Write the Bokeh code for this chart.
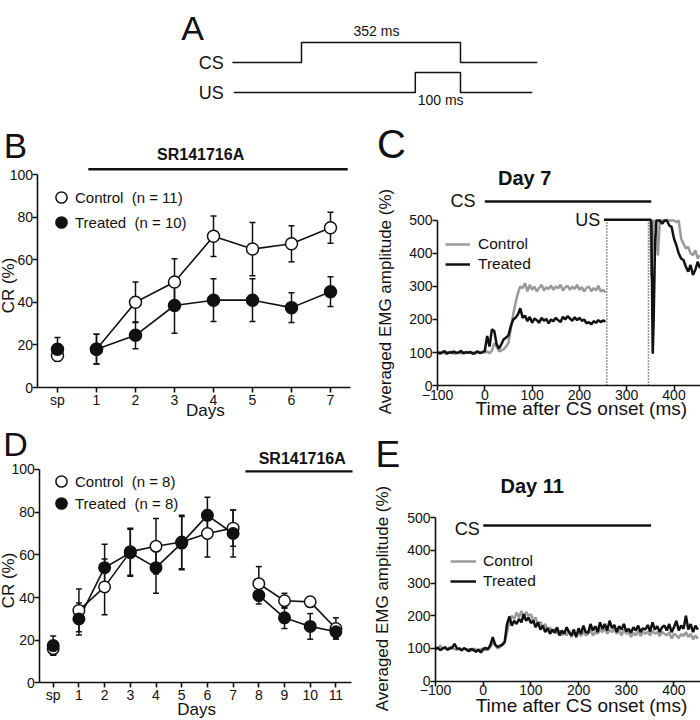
import math
from bokeh.plotting import figure
from bokeh.models import (Range1d, Label, Whisker, TeeHead, ColumnDataSource,
                          FixedTicker, Legend, LegendItem)
from bokeh.layouts import column, row
from bokeh.embed import file_html
from bokeh.resources import INLINE

FONT = "Liberation Sans"
INK = "#111111"
GRAY = "#9a9a9a"

# ---------------- Panel A : stimulus schematic (ms) ----------------
cs_times = [-153, 0, 0, 352, 352, 522]
cs_levels = [0, 0, 1, 1, 0, 0]
us_times = [-150, 252, 252, 352, 352, 511]
us_levels = [0, 0, 1, 1, 0, 0]

# ---------------- Panel B : CR % (days sp, 1..7) ----------------
day_labels_B = ["sp", "1", "2", "3", "4", "5", "6", "7"]
ctrl_B = [15, 18, 40, 49.5, 71, 65, 67.5, 75]
ctrl_B_err = [2.5, 7, 9.5, 11, 9.5, 12.5, 8.5, 7.3]
treat_B = [18, 18, 24.5, 38.5, 41, 41, 37.5, 45]
treat_B_err = [5.5, 7, 6.3, 13, 10, 10, 7, 7]

# ---------------- Panel D : CR % (days sp, 1..11) ----------------
day_labels_D = ["sp", "1", "2", "3", "4", "5", "6", "7", "8", "9", "10", "11"]
ctrl_D = [16, 34, 45, 61.5, 64, 66, 70, 72.5, 46.5, 38.5, 38, 25.5]
ctrl_D_err = [3, 10, 13, 11, 13, 12.5, 11, 8.5, 8, 3.5, 2, 5]
treat_D = [17.5, 30, 54, 61, 54, 65.5, 78.5, 70, 41, 30.5, 26.5, 24]
treat_D_err = [4.5, 7.5, 11, 11, 12, 12.5, 8.5, 11, 4, 5, 6, 3]

# ---------------- Panel C : Day 7 EMG traces (%) ----------------
c7_pre_start, c7_step = -100, 5
c7_ctrl_pre = [100, 98, 103, 97, 101, 99, 104, 96, 100, 102, 97, 101, 99, 103, 98, 100, 96, 102, 99, 101,
               100, 103, 98, 105, 128, 118, 104, 106, 110, 118, 130,
               170, 215, 250, 280, 300, 295, 310, 285, 305, 290, 300, 285, 296, 305, 288, 298, 292, 303, 290, 300,
               295, 305, 288, 298, 302, 290, 299, 293, 305, 290, 298, 285, 296, 300, 286, 295, 288, 302, 285, 290, 282]
c7_treat_pre = [102, 97, 100, 104, 96, 101, 99, 103, 98, 100, 105, 97, 101, 99, 102, 96, 100, 103, 98, 101,
                105, 150, 118, 170, 165, 125, 112, 125, 140, 145, 152,
                180, 200, 205, 215, 234, 205, 212, 195, 208, 190, 203, 198, 190, 205, 196, 202, 188, 200, 195, 205,
                198, 192, 208, 200, 210, 203, 196, 207, 198, 205, 196, 200, 188, 192, 185, 195, 190, 198, 192, 197, 194]
c7_post_t = [350, 352, 355, 357, 360, 363, 366, 370, 375, 380, 385, 390, 395, 400, 405, 410, 415, 420, 425,
             430, 435, 440, 445, 450, 455]
c7_treat_post = [500, 500, 96, 200, 440, 500, 500, 500, 490, 500, 500, 485, 480, 445, 425, 400, 385, 380, 360,
                 345, 365, 335, 350, 375, 355]
c7_ctrl_post = [500, 330, 450, 500, 500, 470, 394, 500, 500, 500, 500, 500, 500, 500, 495, 500, 445, 430, 415,
                420, 400, 395, 410, 385, 395]
c7_cs_on, c7_cs_off = 0, 352
c7_us_on, c7_us_off = 252, 352
c7_gate = [258, 346]

# ---------------- Panel E : Day 11 EMG traces (%) ----------------
e11_start, e11_step = -100, 5
e11_treat = [98, 102, 95, 100, 104, 97, 100, 103, 114, 100, 99, 94, 101, 97, 92, 99, 95, 90, 97, 88,
             98, 102, 97, 110, 135, 112, 105, 108, 112, 120, 175,
             198, 170, 185, 175, 190, 180, 205, 185, 195, 178,
             185, 165, 180, 158, 170, 150, 162, 145, 158, 148,
             165, 140, 155, 145, 165, 150, 140, 158, 135, 162,
             145, 170, 150, 148, 175, 155, 168, 150, 180, 160,
             175, 155, 185, 162, 172, 150, 168, 158, 175, 152,
             160, 148, 165, 155, 170, 150, 162, 158, 172, 152,
             180, 158, 168, 150, 165, 170, 155, 175, 150, 165,
             185, 155, 170, 160, 200, 158, 175, 150, 170, 158]
e11_ctrl = [105, 100, 110, 98, 102, 95, 105, 100, 98, 96, 102, 97, 100, 95, 98, 93, 100, 96, 92, 98,
            100, 95, 100, 105, 118, 110, 100, 105, 110, 118, 150,
            185, 200, 190, 210, 195, 215, 190, 212, 200, 205,
            185, 195, 170, 182, 165, 175, 155, 165, 150, 160,
            145, 155, 140, 150, 140, 155, 135, 148, 140, 150,
            138, 152, 140, 145, 158, 140, 150, 145, 160, 150,
            162, 145, 158, 150, 160, 145, 155, 140, 158, 145,
            150, 135, 148, 140, 155, 138, 150, 145, 152, 140,
            155, 145, 150, 138, 150, 145, 140, 150, 130, 145,
            140, 132, 145, 138, 150, 135, 145, 128, 140, 130]
e11_cs_on, e11_cs_off = 0, 352


def panel(w, h, xr, yr, axes=True):
    kw = {} if axes else dict(x_axis_type=None, y_axis_type=None)
    p = figure(width=w, height=h, x_range=Range1d(*xr), y_range=Range1d(*yr),
               output_backend="svg", toolbar_location=None,
               min_border_left=0, min_border_right=0, min_border_top=0, min_border_bottom=0, **kw)
    p.outline_line_color = None
    p.grid.visible = False
    p.background_fill_color = "white"
    p.border_fill_color = "white"
    return p


def style_axes(p, x_at, y_at, xbounds, ybounds, xticks, yticks, xlabels=None):
    for ax in (p.xaxis[0], p.yaxis[0]):
        ax.axis_line_color = INK
        ax.axis_line_width = 1.6
        ax.major_tick_line_color = INK
        ax.major_tick_line_width = 1.6
        ax.major_tick_out = 5
        ax.major_tick_in = 0
        ax.minor_tick_line_color = None
        ax.major_label_text_font = FONT
        ax.major_label_text_font_size = "14px"
        ax.major_label_text_color = INK
    xa, ya = p.xaxis[0], p.yaxis[0]
    xa.fixed_location = x_at
    ya.fixed_location = y_at
    xa.bounds = xbounds
    ya.bounds = ybounds
    xa.major_label_standoff = -1
    ya.major_label_standoff = 0
    xa.ticker = FixedTicker(ticks=xticks)
    ya.ticker = FixedTicker(ticks=yticks)
    if xlabels:
        xa.major_label_overrides = {t: s for t, s in zip(xticks, xlabels)}


def label(p, x, y, text, size, bold=False, align="center", angle=0.0):
    p.add_layout(Label(x=x, y=y, text=text, text_font=FONT, text_font_size=size,
                       text_font_style="bold" if bold else "normal", text_color=INK,
                       text_align=align, text_baseline="middle", angle=angle))


def add_err(p, xs, ys, errs):
    src = ColumnDataSource(dict(x=xs, lo=[y - e for y, e in zip(ys, errs)],
                                hi=[y + e for y, e in zip(ys, errs)]))
    p.add_layout(Whisker(source=src, base="x", lower="lo", upper="hi",
                         line_color=INK, line_width=1.5,
                         upper_head=TeeHead(size=6, line_color=INK, line_width=1.5),
                         lower_head=TeeHead(size=6, line_color=INK, line_width=1.5)))


def one_legend(p, text, rend, x, y):
    p.add_layout(Legend(items=[LegendItem(label=text, renderers=[rend])], location=(x, y),
                        glyph_width=28, glyph_height=28, spacing=0, padding=0, margin=0,
                        label_standoff=0, label_text_font=FONT, label_text_font_size="15px",
                        label_text_color=INK, border_line_alpha=0, background_fill_alpha=0))


def two_legend(p, items, x, y, gw, standoff):
    p.add_layout(Legend(items=[LegendItem(label=t, renderers=[r]) for t, r in items],
                        location=(x, y), glyph_width=gw, glyph_height=20, spacing=0, padding=0,
                        margin=0, label_standoff=standoff, label_text_font=FONT,
                        label_text_font_size="15.5px", label_text_color=INK,
                        border_line_alpha=0, background_fill_alpha=0))


# ====================== Panel A (page y 0..110) ======================
pa = panel(700, 110, (-666.4, 883.4), (-110, 0), axes=False)
cs_base, us_base, amp = -62, -92, 20
pa.line(cs_times, [cs_base + amp * v for v in cs_levels], line_color=INK, line_width=1.5)
pa.line(us_times, [us_base + amp * v for v in us_levels], line_color=INK, line_width=1.5)
label(pa, -241, -27, "A", "34px")
label(pa, -172, -62, "CS", "18px", align="right")
label(pa, -172, -92, "US", "18px", align="right")
label(pa, 166, -30, "352 ms", "14px")
label(pa, 308, -99, "100 ms", "14px")

# ====================== Panel B (page x 0..370, y 110..423) ======================
xB = list(range(len(day_labels_B)))
pb = panel(370, 313, (-1.4615, 8.0256), (-16.9, 130.05))
style_axes(pb, 0, -0.5, (-0.5, 7.5), (0, 100), xB, [0, 20, 40, 60, 80, 100], day_labels_B)
add_err(pb, xB, ctrl_B, ctrl_B_err)
add_err(pb, xB, treat_B, treat_B_err)
pb.line(xB[1:], ctrl_B[1:], line_color=INK, line_width=1.6)
pb.line(xB[1:], treat_B[1:], line_color=INK, line_width=1.6)
rbc = pb.scatter(xB, ctrl_B, size=12, fill_color="white", line_color=INK, line_width=1.5)
rbt = pb.scatter(xB, treat_B, size=12, fill_color=INK, line_color=INK, line_width=1.5)
drug_B = (0.79, 7.44)
pb.segment(x0=drug_B[0], y0=102.5, x1=drug_B[1], y1=102.5, line_color=INK, line_width=2.4)
label(pb, 3.67, 109.4, "SR141716A", "16px", bold=True)
label(pb, -1.077, 113.6, "B", "35px")
label(pb, -1.244, 47.9, "CR (%)", "17px", angle=math.pi / 2)
label(pb, 3.79, -10.8, "Days", "17px")
one_legend(pb, "Control  (n = 11)", rbc, 47, 212)
one_legend(pb, "Treated  (n = 10)", rbt, 47, 187)

# ====================== Panel D (page x 0..370, y 423..720) ======================
xD = list(range(len(day_labels_D)))
pd_ = panel(370, 297, (-2.0506, 12.346), (-17.56, 121.5))
style_axes(pd_, 0, -0.52, (-0.52, 11.6), (0, 100), xD, [0, 20, 40, 60, 80, 100], day_labels_D)
add_err(pd_, xD, ctrl_D, ctrl_D_err)
add_err(pd_, xD, treat_D, treat_D_err)
for a, b in ((1, 8), (8, 12)):
    pd_.line(xD[a:b], ctrl_D[a:b], line_color=INK, line_width=1.6)
    pd_.line(xD[a:b], treat_D[a:b], line_color=INK, line_width=1.6)
rdc = pd_.scatter(xD, ctrl_D, size=11.5, fill_color="white", line_color=INK, line_width=1.5)
rdt = pd_.scatter(xD, treat_D, size=11.5, fill_color=INK, line_color=INK, line_width=1.5)
drug_D = (7.48, 11.646)
pd_.segment(x0=drug_D[0], y0=99.1, x1=drug_D[1], y1=99.1, line_color=INK, line_width=2.4)
label(pd_, 9.69, 105.3, "SR141716A", "16px", bold=True)
label(pd_, -1.467, 112.0, "D", "34px")
label(pd_, -1.72, 48, "CR (%)", "17px", angle=math.pi / 2)
label(pd_, 5.58, -12.4, "Days", "17px")
one_legend(pd_, "Control  (n = 8)", rdc, 47, 225)
one_legend(pd_, "Treated  (n = 8)", rdt, 47, 203)

# ====================== Panel C (page x 370..700, y 110..425) ======================
pc = panel(330, 315, (-241.65, 456.0), (-121.2, 833.3))
style_axes(pc, 0, -100, (-100, 456), (0, 500), [-100, 0, 100, 200, 300, 400],
           [0, 100, 200, 300, 400, 500])
t_pre = [c7_pre_start + c7_step * i for i in range(len(c7_ctrl_pre))]
rcc = pc.line(t_pre, c7_ctrl_pre, line_color=GRAY, line_width=2.5)
rct = pc.line(t_pre, c7_treat_pre, line_color=INK, line_width=2.5)
pc.line(c7_post_t, c7_ctrl_post, line_color=GRAY, line_width=2.5)
pc.line(c7_post_t, c7_treat_post, line_color=INK, line_width=2.5)
pc.segment(x0=c7_gate, y0=[0, 0], x1=c7_gate, y1=[500, 500], line_color="#333333",
           line_width=1.5, line_dash="1 2")
pc.segment(x0=c7_cs_on, y0=557.6, x1=c7_cs_off, y1=557.6, line_color=INK, line_width=2.5)
pc.segment(x0=c7_us_on, y0=502, x1=c7_us_off, y1=502, line_color=INK, line_width=2.5)
label(pc, -19.7, 557.6, "CS", "18px", align="right")
label(pc, 244, 502, "US", "18px", align="right")
label(pc, 84.4, 628.8, "Day 7", "20px", bold=True)
label(pc, -197.3, 733, "C", "40px")
label(pc, -210, 254.5, "Averaged EMG amplitude (%)", "17px", angle=math.pi / 2)
label(pc, 204, -69.7, "Time after CS onset (ms)", "19px")
two_legend(pc, [("Control", rcc), ("Treated", rct)], 75, 151, 25, 8)

# ====================== Panel E (page x 370..700, y 425..720) ======================
pe = panel(330, 295, (-236.3, 455.6), (-120.2, 782.0))
style_axes(pe, 0, -100, (-100, 455.6), (0, 500), [-100, 0, 100, 200, 300, 400],
           [0, 100, 200, 300, 400, 500])
t_e = [e11_start + e11_step * i for i in range(len(e11_ctrl))]
rec = pe.line(t_e, e11_ctrl, line_color=GRAY, line_width=2.5)
ret = pe.line(t_e, e11_treat, line_color=INK, line_width=2.5)
pe.segment(x0=e11_cs_on, y0=476, x1=e11_cs_off, y1=476, line_color=INK, line_width=2.5)
label(pe, -7, 466, "CS", "18px", align="right")
label(pe, 102.7, 596.3, "Day 11", "20px", bold=True)
label(pe, -200, 694, "E", "37px")
label(pe, -211, 253, "Averaged EMG amplitude (%)", "17px", angle=math.pi / 2)
label(pe, 206, -75.8, "Time after CS onset (ms)", "19px")
two_legend(pe, [("Control", rec), ("Treated", ret)], 80, 129, 26, 7)

layout = column(pa, row(column(pb, pd_), column(pc, pe)))
open("out.html", "w").write(file_html(layout, INLINE))
